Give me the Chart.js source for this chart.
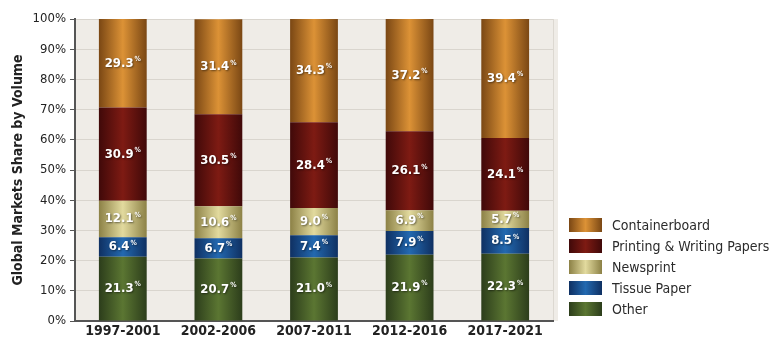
<!DOCTYPE html>
<html>
<head>
<meta charset="utf-8">
<script src="https://cdn.jsdelivr.net/npm/chart.js@4/dist/chart.umd.min.js"></script>
<style>
  html, body { margin: 0; padding: 0; background: #fff; }
  #wrap { width: 773px; height: 339px; }
</style>
</head>
<body>
<div id="wrap"><canvas id="shareChart"></canvas></div>
<script>
// Categories (5-year periods)
const periods = ["1997-2001", "2002-2006", "2007-2011", "2012-2016", "2017-2021"];

// Share by volume (%)
const other = [21.3, 20.7, 21.0, 21.9, 22.3];
const tissuePaper = [6.4, 6.7, 7.4, 7.9, 8.5];
const newsprint = [12.1, 10.6, 9.0, 6.9, 5.7];
const printingWriting = [30.9, 30.5, 28.4, 26.1, 24.1];
const containerboard = [29.3, 31.4, 34.3, 37.2, 39.4];

const yTicks = [0, 10, 20, 30, 40, 50, 60, 70, 80, 90, 100];

const FONT = "'Liberation Sans Narrow', 'DejaVu Sans Condensed', 'Roboto', sans-serif";

// edge / centre colours for the cylinder-look gradient
const shades = {
  "Containerboard": ["#7a4714", "#dc9236"],
  "Printing & Writing Papers": ["#400909", "#7e1b13"],
  "Newsprint": ["#8c8146", "#e2da9e"],
  "Tissue Paper": ["#0f3062", "#2369b0"],
  "Other": ["#2c3d1b", "#5b7632"]
};

function cylinder(ctx2d, x0, x1, pair) {
  const g = ctx2d.createLinearGradient(x0, 0, x1, 0);
  g.addColorStop(0, pair[0]);
  g.addColorStop(0.5, pair[1]);
  g.addColorStop(1, pair[0]);
  return g;
}

function barFill(label) {
  return (context) => {
    const chart = context.chart;
    const pair = shades[label];
    if (!chart.chartArea || context.dataIndex === undefined) return pair[1];
    const xs = chart.scales.x;
    const cx = xs.getPixelForValue(context.dataIndex);
    const half = (chart.chartArea.width / periods.length) * 0.5 / 2;
    return cylinder(chart.ctx, cx - half, cx + half, pair);
  };
}

// plot background
const plotBackground = {
  id: "plotBackground",
  beforeDraw(chart) {
    const { ctx, chartArea: a } = chart;
    ctx.save();
    ctx.fillStyle = "#efece7";
    ctx.fillRect(a.left, a.top, a.width + 5, a.height);
    ctx.strokeStyle = "#dcd8d1";
    ctx.lineWidth = 1;
    ctx.beginPath();
    ctx.moveTo(a.right + 0.5, a.top);
    ctx.lineTo(a.right + 0.5, a.bottom);
    ctx.stroke();
    ctx.restore();
  }
};

// white value labels with a small % sign
const valueLabels = {
  id: "valueLabels",
  afterDatasetsDraw(chart) {
    const ctx = chart.ctx;
    ctx.save();
    ctx.textBaseline = "middle";
    ctx.shadowColor = "rgba(0,0,0,0.5)";
    ctx.shadowBlur = 2;
    ctx.shadowOffsetX = 1;
    ctx.shadowOffsetY = 1;
    chart.data.datasets.forEach((ds, i) => {
      const meta = chart.getDatasetMeta(i);
      meta.data.forEach((bar, j) => {
        const txt = ds.data[j].toFixed(1);
        const cy = (bar.y + bar.base) / 2;
        ctx.font = "bold 13px " + FONT;
        const w1 = ctx.measureText(txt).width;
        ctx.font = "bold 7px " + FONT;
        const w2 = ctx.measureText("%").width;
        const x0 = bar.x - (w1 + w2 + 1) / 2;
        ctx.fillStyle = "#ffffff";
        ctx.font = "bold 13px " + FONT;
        ctx.textAlign = "left";
        ctx.fillText(txt, x0, cy);
        ctx.font = "bold 7px " + FONT;
        ctx.fillText("%", x0 + w1 + 1, cy - 4);
      });
    });
    ctx.restore();
  }
};

// legend at lower right
const sideLegend = {
  id: "sideLegend",
  afterDraw(chart) {
    const ctx = chart.ctx;
    const items = chart.data.datasets.slice().reverse();
    ctx.save();
    ctx.font = "14px " + FONT;
    ctx.textBaseline = "middle";
    ctx.textAlign = "left";
    items.forEach((ds, k) => {
      const cy = 225 + k * 21;
      ctx.fillStyle = cylinder(ctx, 569, 602, shades[ds.label]);
      ctx.fillRect(569, cy - 7, 33, 14);
      ctx.fillStyle = "#2b2b2b";
      ctx.fillText(ds.label, 612, cy + 1);
    });
    ctx.restore();
  }
};

const seriesList = [
  ["Other", other],
  ["Tissue Paper", tissuePaper],
  ["Newsprint", newsprint],
  ["Printing & Writing Papers", printingWriting],
  ["Containerboard", containerboard]
];

new Chart(document.getElementById("shareChart"), {
  type: "bar",
  data: {
    labels: periods,
    datasets: seriesList.map(([label, values]) => ({
      label: label,
      data: values,
      backgroundColor: barFill(label),
      borderWidth: 0,
      categoryPercentage: 1.0,
      barPercentage: 0.5
    }))
  },
  options: {
    responsive: true,
    maintainAspectRatio: false,
    animation: false,
    devicePixelRatio: 1,
    layout: { padding: { top: 19, right: 220, left: 10, bottom: 0 } },
    plugins: {
      legend: { display: false },
      tooltip: { enabled: false }
    },
    scales: {
      x: {
        stacked: true,
        grid: { display: false, drawTicks: false, tickLength: 0 },
        border: { color: "#555555", width: 2 },
        afterFit(scale) { scale.height = 18; },
        ticks: {
          color: "#222222",
          font: { family: FONT, size: 14, weight: "bold" },
          padding: 2
        }
      },
      y: {
        stacked: true,
        min: 0,
        max: 100,
        afterBuildTicks(scale) {
          scale.ticks = yTicks.map((v) => ({ value: v }));
        },
        afterFit(scale) { scale.width = 65; },
        grid: {
          color: "#d9d5ce",
          tickColor: "#555555",
          tickLength: 5
        },
        border: { color: "#555555", width: 2 },
        ticks: {
          color: "#222222",
          padding: 4,
          font: { family: FONT, size: 13 },
          callback: (v) => v + "%"
        },
        title: {
          display: true,
          text: "Global Markets Share by Volume",
          color: "#222222",
          padding: 0,
          font: { family: FONT, size: 14, weight: "bold" }
        }
      }
    }
  },
  plugins: [plotBackground, valueLabels, sideLegend]
});
</script>
</body>
</html>
